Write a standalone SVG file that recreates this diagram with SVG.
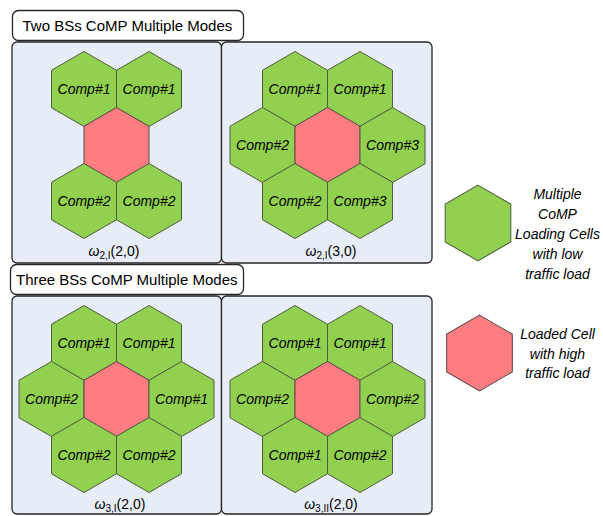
<svg xmlns="http://www.w3.org/2000/svg" xmlns:xlink="http://www.w3.org/1999/xlink" width="603" height="516" viewBox="0 0 603 516">
  <style>
    .panel { fill: #e7edf7; stroke: #262626; stroke-width: 1.3; }
    .title { fill: #ffffff; stroke: #262626; stroke-width: 1.3; }
    .green { fill: #92d050; stroke: #4e5c40; stroke-width: 1; }
    .red { fill: #ff7c80; stroke: #5a4848; stroke-width: 1; }
    text { font-family: "Liberation Sans", Arial, sans-serif; fill: #000; }
    .ttl { font-size: 15px; }
    .cell { font-size: 14px; font-style: italic; text-anchor: middle; }
    .mode { font-size: 14px; text-anchor: middle; }
    .leg { font-size: 14px; font-style: italic; text-anchor: middle; }
  </style>
  <defs>
    <polygon id="hex" points="0,-37.5 32.5,-18.75 32.5,18.75 0,37.5 -32.5,18.75 -32.5,-18.75"/>
  </defs>

  <!-- section titles and panels -->
  <g id="title-two">
    <rect class="title" x="12.5" y="10.5" width="231" height="30" rx="6"/>
    <text class="ttl" x="22.5" y="31">Two BSs CoMP Multiple Modes</text>
  </g>
  <g id="title-three">
    <rect class="title" x="10.5" y="264.5" width="233" height="30" rx="6"/>
    <text class="ttl" x="16" y="285">Three BSs CoMP Multiple Modes</text>
  </g>

  <!-- two BSs, mode (2,0) -->
  <g id="panel-2I-20">
    <rect class="panel" x="12" y="42" width="209.5" height="221" rx="5"/>
    <use xlink:href="#hex" class="green" x="84" y="89"/>
    <use xlink:href="#hex" class="green" x="149" y="89"/>
    <use xlink:href="#hex" class="red" x="116.5" y="145"/>
    <use xlink:href="#hex" class="green" x="84" y="201"/>
    <use xlink:href="#hex" class="green" x="149" y="201"/>
    <text class="cell" x="84" y="94">Comp#1</text>
    <text class="cell" x="149" y="94">Comp#1</text>
    <text class="cell" x="84" y="206">Comp#2</text>
    <text class="cell" x="149" y="206">Comp#2</text>
    <text class="mode" x="114" y="256"><tspan font-style="italic">ω</tspan><tspan font-size="10" dy="3">2,I</tspan><tspan dy="-3">(2,0)</tspan></text>
  </g>

  <!-- two BSs, mode (3,0) -->
  <g id="panel-2I-30">
    <rect class="panel" x="221.5" y="42" width="210.5" height="221" rx="5"/>
    <use xlink:href="#hex" class="green" x="295" y="89"/>
    <use xlink:href="#hex" class="green" x="360" y="89"/>
    <use xlink:href="#hex" class="green" x="262.5" y="145"/>
    <use xlink:href="#hex" class="red" x="327.5" y="145"/>
    <use xlink:href="#hex" class="green" x="392.5" y="145"/>
    <use xlink:href="#hex" class="green" x="295" y="201"/>
    <use xlink:href="#hex" class="green" x="360" y="201"/>
    <text class="cell" x="295" y="94">Comp#1</text>
    <text class="cell" x="360" y="94">Comp#1</text>
    <text class="cell" x="262.5" y="150">Comp#2</text>
    <text class="cell" x="392.5" y="150">Comp#3</text>
    <text class="cell" x="295" y="206">Comp#2</text>
    <text class="cell" x="360" y="206">Comp#3</text>
    <text class="mode" x="331" y="256"><tspan font-style="italic">ω</tspan><tspan font-size="10" dy="3">2,I</tspan><tspan dy="-3">(3,0)</tspan></text>
  </g>

  <!-- three BSs, mode I (2,0) -->
  <g id="panel-3I-20">
    <rect class="panel" x="12" y="296" width="209.5" height="218" rx="5"/>
    <use xlink:href="#hex" class="green" x="84" y="343"/>
    <use xlink:href="#hex" class="green" x="149" y="343"/>
    <use xlink:href="#hex" class="green" x="51.5" y="399"/>
    <use xlink:href="#hex" class="red" x="116.5" y="399"/>
    <use xlink:href="#hex" class="green" x="181.5" y="399"/>
    <use xlink:href="#hex" class="green" x="84" y="455"/>
    <use xlink:href="#hex" class="green" x="149" y="455"/>
    <text class="cell" x="84" y="348">Comp#1</text>
    <text class="cell" x="149" y="348">Comp#1</text>
    <text class="cell" x="51.5" y="404">Comp#2</text>
    <text class="cell" x="181.5" y="404">Comp#1</text>
    <text class="cell" x="84" y="460">Comp#2</text>
    <text class="cell" x="149" y="460">Comp#2</text>
    <text class="mode" x="120" y="509"><tspan font-style="italic">ω</tspan><tspan font-size="10" dy="3">3,I</tspan><tspan dy="-3">(2,0)</tspan></text>
  </g>

  <!-- three BSs, mode II (2,0) -->
  <g id="panel-3II-20">
    <rect class="panel" x="221.5" y="296" width="210.5" height="218" rx="5"/>
    <use xlink:href="#hex" class="green" x="295" y="343"/>
    <use xlink:href="#hex" class="green" x="360" y="343"/>
    <use xlink:href="#hex" class="green" x="262.5" y="399"/>
    <use xlink:href="#hex" class="red" x="327.5" y="399"/>
    <use xlink:href="#hex" class="green" x="392.5" y="399"/>
    <use xlink:href="#hex" class="green" x="295" y="455"/>
    <use xlink:href="#hex" class="green" x="360" y="455"/>
    <text class="cell" x="295" y="348">Comp#1</text>
    <text class="cell" x="360" y="348">Comp#1</text>
    <text class="cell" x="262.5" y="404">Comp#2</text>
    <text class="cell" x="392.5" y="404">Comp#2</text>
    <text class="cell" x="295" y="460">Comp#1</text>
    <text class="cell" x="360" y="460">Comp#2</text>
    <text class="mode" x="331" y="509"><tspan font-style="italic">ω</tspan><tspan font-size="10" dy="3">3,II</tspan><tspan dy="-3">(2,0)</tspan></text>
  </g>

  <!-- legend -->
  <g id="legend-low">
    <use xlink:href="#hex" class="green" transform="translate(478,223) scale(1.01)"/>
    <text class="leg" x="557.5" y="199">Multiple</text>
    <text class="leg" x="557.5" y="219">CoMP</text>
    <text class="leg" x="557.5" y="239">Loading Cells</text>
    <text class="leg" x="557.5" y="259">with low</text>
    <text class="leg" x="557.5" y="279">traffic load</text>
  </g>
  <g id="legend-high">
    <use xlink:href="#hex" class="red" transform="translate(479.5,353) scale(1.01)"/>
    <text class="leg" x="557.5" y="339">Loaded Cell</text>
    <text class="leg" x="557.5" y="358.5">with high</text>
    <text class="leg" x="557.5" y="378">traffic load</text>
  </g>

  <!-- no connectors in this figure -->
  <g id="connectors"/>
</svg>
